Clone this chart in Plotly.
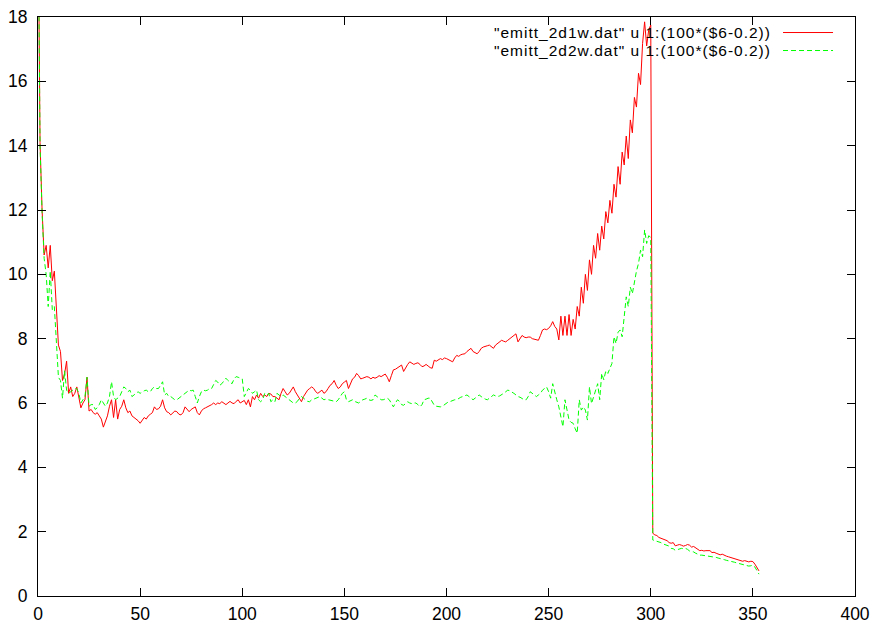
import plotly.graph_objects as go

# x positions (column 1 of the data files)
x_values = list(range(0, 354))

# "emitt_2d1w.dat" u 1:(100*($6-0.2))
red_values = [
    22.0, 14.1, 12.0, 10.6, 10.9, 10.2, 10.9, 9.8, 10.1, 8.8,
    7.8, 7.6, 6.7, 6.9, 7.3, 6.3, 6.5, 6.2, 6.3, 6.5,
    6.2, 5.85, 6.0, 6.1, 6.8, 5.75, 5.8, 5.7, 5.65, 5.7,
    5.6, 5.5, 5.25, 5.45, 5.6, 5.9, 6.1, 5.55, 6.1, 5.5,
    5.8, 5.9, 6.1, 5.85, 5.7, 5.75, 5.6, 5.55, 5.5, 5.45,
    5.37, 5.45, 5.55, 5.5, 5.6, 5.65, 5.7, 5.88, 5.8, 5.82,
    5.9, 6.1, 5.85, 5.73, 5.7, 5.63, 5.7, 5.75, 5.73, 5.65,
    5.63, 5.7, 5.88, 5.8, 5.73, 5.8, 5.85, 5.88, 5.7, 5.63,
    5.75, 5.82, 5.85, 5.88, 5.9, 5.95, 6.0, 5.95, 6.0, 5.98,
    6.04, 6.0, 5.95, 6.0, 6.05, 6.0, 5.98, 6.05, 6.1, 6.0,
    6.04, 6.08, 5.95, 6.1, 5.88, 6.2, 6.1, 6.25, 6.15, 6.3,
    6.2, 6.25, 6.2, 6.3, 6.28, 6.2, 6.2, 6.15, 6.1, 6.3,
    6.45, 6.35, 6.25, 6.3, 6.4, 6.5, 6.35, 6.25, 6.15, 6.04,
    6.2, 6.3, 6.4, 6.45, 6.5, 6.45, 6.35, 6.3, 6.35, 6.4,
    6.3, 6.35, 6.45, 6.55, 6.6, 6.7, 6.55, 6.45, 6.5, 6.6,
    6.65, 6.7, 6.45, 6.6, 6.75, 6.8, 6.92, 6.85, 6.75, 6.77,
    6.8, 6.82, 6.8, 6.75, 6.8, 6.77, 6.8, 6.85, 6.82, 6.87,
    6.9, 6.8, 6.66, 6.85, 7.03, 7.05, 7.1, 7.15, 7.18, 6.98,
    7.1, 7.2, 7.28, 7.25, 7.2, 7.23, 7.25, 7.2, 7.13, 7.15,
    7.2, 7.15, 7.1, 7.08, 7.33, 7.3, 7.35, 7.38, 7.35, 7.4,
    7.38, 7.35, 7.3, 7.28, 7.4, 7.48, 7.45, 7.5, 7.52, 7.53,
    7.6, 7.65, 7.7, 7.6, 7.55, 7.53, 7.6, 7.7, 7.74, 7.75,
    7.78, 7.8, 7.75, 7.7, 7.8, 7.85, 7.9, 7.95, 7.92, 7.9,
    7.95, 8.0, 8.05, 8.1, 8.15, 7.9, 8.0, 8.1, 8.05, 8.03,
    8.05, 8.05, 8.0, 7.98, 7.95, 7.95, 8.1, 8.27, 8.3, 8.28,
    8.32, 8.4, 8.53, 8.38, 8.3, 7.96, 8.7, 8.1, 8.7, 8.1,
    8.75, 8.1, 8.6, 8.3, 9.0, 8.7, 9.6, 9.1, 10.0, 9.5,
    10.45, 10.0, 10.9, 10.5, 11.27, 10.75, 11.5, 11.1, 11.95, 11.6,
    12.3, 11.9, 12.8, 12.4, 13.35, 12.8, 13.8, 13.4, 14.3, 13.6,
    14.8, 14.4, 15.5, 15.2, 16.25, 15.9, 17.18, 17.85, 17.1, 17.6,
    17.75, 1.95, 1.9, 1.88, 1.82, 1.8, 1.77, 1.75, 1.72, 1.66,
    1.64, 1.66, 1.56, 1.58, 1.6, 1.58, 1.55, 1.57, 1.6, 1.58,
    1.52, 1.54, 1.5, 1.45, 1.41, 1.42, 1.4, 1.41, 1.42, 1.41,
    1.35, 1.36, 1.33, 1.3, 1.28, 1.3, 1.26, 1.24, 1.22, 1.2,
    1.18, 1.16, 1.14, 1.12, 1.1, 1.08, 1.1, 1.07, 1.06, 1.08,
    1.07, 0.99, 0.86, 0.78,
]

# "emitt_2d2w.dat" u 1:(100*($6-0.2))
green_values = [
    22.0, 14.0, 11.9, 10.5, 10.0, 9.0, 10.1, 8.9, 9.0, 7.75,
    6.8, 6.7, 6.15, 7.0, 6.4, 6.3, 6.35, 6.4, 6.45, 6.45,
    6.3, 6.0, 6.1, 6.2, 6.8, 5.9, 5.95, 5.95, 5.8, 5.85,
    5.95, 6.1, 6.0, 5.9, 6.0, 6.2, 6.66, 6.2, 6.1, 6.15,
    6.2, 6.35, 6.5, 6.45, 6.35, 6.4, 6.2, 6.25, 6.3, 6.35,
    6.3, 6.35, 6.38, 6.4, 6.35, 6.35, 6.45, 6.5, 6.45, 6.45,
    6.55, 6.66, 6.25, 6.3, 6.2, 6.2, 6.15, 6.1, 6.1, 6.15,
    6.2, 6.25, 6.3, 6.35, 6.4, 6.38, 6.4, 6.2, 6.0, 6.2,
    6.35, 6.4, 6.38, 6.4, 6.45, 6.45, 6.6, 6.7, 6.65, 6.55,
    6.6, 6.7, 6.77, 6.7, 6.65, 6.6, 6.75, 6.82, 6.8, 6.77,
    6.75, 6.2, 6.35, 6.45, 6.4, 6.3, 6.35, 6.4, 6.1, 6.04,
    6.1, 6.3, 6.25, 6.3, 6.04, 6.1, 6.04, 6.3, 6.25, 6.2,
    6.25, 6.2, 6.15, 6.1, 6.05, 6.0, 6.0, 6.05, 6.15, 6.2,
    6.15, 6.1, 6.05, 6.04, 6.1, 6.12, 6.15, 6.18, 6.2, 6.15,
    6.1, 6.12, 6.1, 6.1, 6.08, 6.05, 6.04, 6.1, 6.2, 6.3,
    6.35, 6.1, 6.04, 6.08, 6.1, 6.05, 6.02, 6.0, 6.05, 6.1,
    6.12, 6.15, 6.1, 6.08, 6.1, 6.25, 6.2, 6.15, 6.1, 6.1,
    6.12, 6.15, 6.1, 6.0, 5.88, 6.0, 6.1, 6.05, 5.95, 5.93,
    6.0, 6.04, 6.0, 5.98, 6.0, 6.0, 5.95, 5.88, 5.95, 6.1,
    6.12, 6.15, 6.15, 6.05, 5.93, 5.9, 5.88, 5.88, 5.9, 5.95,
    6.0, 6.04, 6.05, 6.08, 6.1, 6.1, 6.15, 6.18, 6.2, 6.22,
    6.25, 6.2, 6.15, 6.1, 6.15, 6.2, 6.25, 6.2, 6.15, 6.12,
    6.1, 6.15, 6.2, 6.25, 6.22, 6.2, 6.22, 6.25, 6.3, 6.35,
    6.4, 6.38, 6.35, 6.3, 6.25, 6.2, 6.18, 6.15, 6.1, 6.1,
    6.2, 6.35, 6.3, 6.25, 6.2, 6.25, 6.3, 6.4, 6.45, 6.5,
    6.35, 6.15, 6.6, 6.3, 6.1, 5.88, 5.5, 5.26, 6.1, 5.8,
    5.47, 5.4, 5.37, 5.2, 5.06, 6.1, 5.78, 5.88, 5.78, 5.47,
    6.5, 5.98, 6.2, 6.4, 6.6, 6.1, 6.92, 6.72, 7.0, 6.92,
    7.1, 7.23, 8.06, 7.85, 8.2, 8.27, 8.06, 8.7, 9.3, 9.0,
    9.6, 9.4, 9.8, 10.1, 10.34, 10.75, 10.55, 11.38, 10.96, 11.2,
    11.15, 1.74, 1.72, 1.7, 1.69, 1.66, 1.62, 1.6, 1.58, 1.55,
    1.48, 1.47, 1.42, 1.44, 1.46, 1.48, 1.47, 1.48, 1.45, 1.4,
    1.38, 1.37, 1.33, 1.3, 1.27, 1.27, 1.26, 1.25, 1.25, 1.24,
    1.24, 1.22, 1.2, 1.18, 1.17, 1.15, 1.13, 1.11, 1.1, 1.08,
    1.06, 1.05, 1.03, 1.01, 1.0, 0.98, 0.97, 0.95, 0.93, 0.94,
    0.96, 0.9, 0.81, 0.68,
]

series_names = [
    '"emitt_2d1w.dat" u 1:(100*($6-0.2))',
    '"emitt_2d2w.dat" u 1:(100*($6-0.2))',
]
x_ticks = [0, 50, 100, 150, 200, 250, 300, 350, 400]
y_ticks = [0, 2, 4, 6, 8, 10, 12, 14, 16, 18]

FONT = "Liberation Sans, Arial, Helvetica, sans-serif"
FONT_SIZE = 17.5
KEY_FONT_SIZE = 15.5
RED = "#ff0000"
GREEN = "#00ff00"
GREEN_DASH = "5px,3px"

fig = go.Figure()
fig.add_trace(go.Scatter(x=x_values, y=red_values, mode="lines",
                         name=series_names[0],
                         line=dict(color=RED, width=1)))
fig.add_trace(go.Scatter(x=x_values, y=green_values, mode="lines",
                         name=series_names[1],
                         line=dict(color=GREEN, width=1, dash=GREEN_DASH)))

axis_common = dict(showgrid=False, zeroline=False, showline=True,
                   linecolor="black", linewidth=1, mirror="ticks",
                   ticks="inside", ticklen=8, tickcolor="black", tickwidth=1,
                   automargin=False,
                   tickfont=dict(family=FONT, size=FONT_SIZE, color="black"))

fig.update_layout(
    width=873, height=623,
    margin=dict(l=38, r=18, t=17, b=27),
    paper_bgcolor="white", plot_bgcolor="white",
    showlegend=False,
    xaxis=dict(range=[0, 400], tickvals=x_ticks, ticklabelstandoff=2, **axis_common),
    yaxis=dict(range=[0, 18], tickvals=y_ticks, ticklabelstandoff=6, **axis_common),
)

# gnuplot-style key: text right-aligned, line sample to its right
key_rows = [(0.9732, RED, "solid"), (0.9421, GREEN, GREEN_DASH)]
for (yp, col, dash), name in zip(key_rows, series_names):
    fig.add_annotation(xref="paper", yref="paper", x=0.8984, y=yp,
                       text=f'<span style="letter-spacing:1px">{name}</span>',
                       showarrow=False, xanchor="right", yanchor="middle",
                       borderpad=0,
                       font=dict(family=FONT, size=KEY_FONT_SIZE, color="black"))
    fig.add_shape(type="line", xref="paper", yref="paper",
                  x0=0.9119, x1=0.9731, y0=yp, y1=yp,
                  line=dict(color=col, width=1, dash=dash))

fig.write_html("out.html")
